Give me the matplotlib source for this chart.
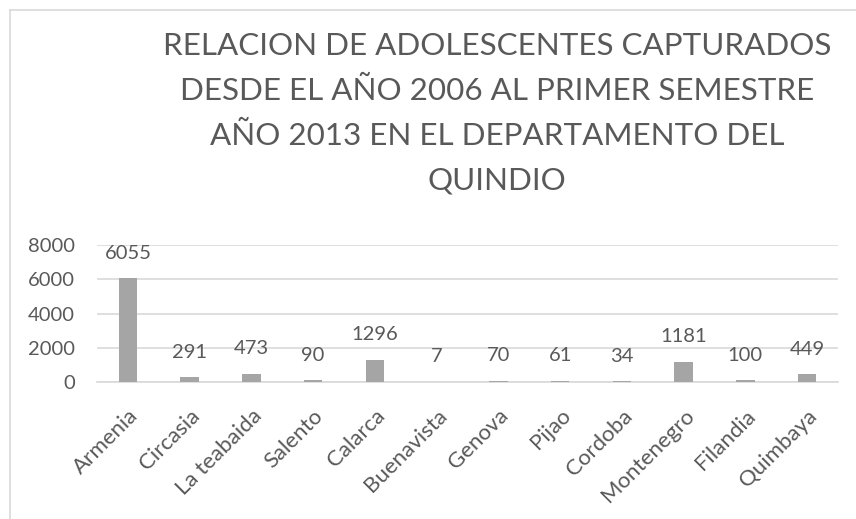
import matplotlib
matplotlib.use('Agg')
import matplotlib.pyplot as plt
from matplotlib.lines import Line2D

plt.rcParams['font.family'] = ['Lato', 'DejaVu Sans']

municipios = ['Armenia', 'Circasia', 'La teabaida', 'Salento', 'Calarca', 'Buenavista',
              'Genova', 'Pijao', 'Cordoba', 'Montenegro', 'Filandia', 'Quimbaya']
capturados = [6055, 291, 473, 90, 1296, 7, 70, 61, 34, 1181, 100, 449]
yticks = [0, 2000, 4000, 6000, 8000]

titulo = ('RELACION DE ADOLESCENTES CAPTURADOS\n'
          'DESDE EL AÑO 2006 AL PRIMER SEMESTRE\n'
          'AÑO 2013 EN EL DEPARTAMENTO DEL\n'
          'QUINDIO')

gris_texto = '#595959'

fig = plt.figure(figsize=(8.56, 5.19), dpi=100)
ax = fig.add_axes([97 / 856, 1 - 382 / 519, (838 - 97) / 856, (382 - 245) / 519])

x = list(range(len(municipios)))
ax.bar(x, capturados, width=0.3, color='#a5a5a5', zorder=3)

for xi, v in zip(x, capturados):
    ax.annotate(str(v), (xi, v), xytext=(0, 18), textcoords='offset points',
                ha='center', va='center', fontsize=14.5, color=gris_texto)

ax.set_xlim(-0.5, len(municipios) - 0.5)
ax.set_ylim(0, 8000)
ax.set_yticks(yticks)
ax.set_yticklabels([str(t) for t in yticks], fontsize=14.5, color=gris_texto)
ax.set_xticks(x)
ax.set_xticklabels(municipios, rotation=45, ha='right', rotation_mode='anchor',
                   fontsize=16, color=gris_texto)
ax.tick_params(axis='both', length=0)
ax.tick_params(axis='y', pad=16)
ax.tick_params(axis='x', pad=17)

ax.grid(axis='y', color='#d9d9d9', linewidth=1.2, zorder=0)
for s in ['top', 'right', 'left']:
    ax.spines[s].set_visible(False)
ax.spines['bottom'].set_color('#d9d9d9')
ax.spines['bottom'].set_linewidth(1.2)

fig.text(497 / 856, 1 - 113 / 519, titulo, ha='center', va='center',
         fontsize=22.6, color=gris_texto, linespacing=1.72)

# marco del grafico (solo se ve arriba e izquierda)
fig.add_artist(Line2D([10 / 856, 10 / 856], [0, 1 - 10 / 519], color='#d9d9d9', lw=1.2))
fig.add_artist(Line2D([10 / 856, 1], [1 - 10 / 519, 1 - 10 / 519], color='#d9d9d9', lw=1.2))

fig.savefig('out.png', dpi=100)
